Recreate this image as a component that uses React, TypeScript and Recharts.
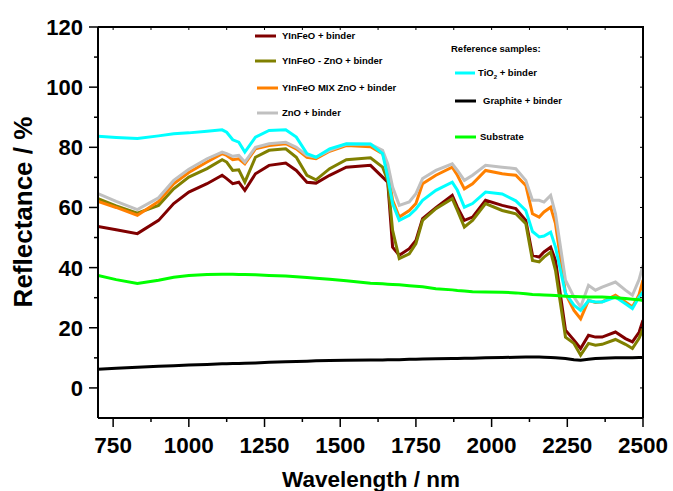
import React from 'react';
import { LineChart, Line, XAxis, YAxis } from 'recharts';

// wavelength grid (nm) shared by all spectra
const wavelengths = [
  700, 760, 830, 900, 950, 1000, 1060, 1110, 1125, 1145, 1165, 1185, 1220, 1265, 1320, 1355, 1390, 1420,
  1465, 1520, 1600, 1640, 1657, 1673, 1695, 1728, 1750, 1772, 1816, 1870, 1887, 1910, 1937, 1980, 2035,
  2080, 2113, 2135, 2157, 2173, 2195, 2211, 2244, 2272, 2294, 2320, 2343, 2365, 2409, 2442, 2465, 2487, 2500,
];

const yinfeo = [
  53.7, 52.6, 51.3, 55.7, 61.3, 65.1, 67.9, 70.7, 69.6, 67.9, 68.4, 65.7, 71.2, 74, 74.8, 72.3, 68.4, 68.1,
  70.7, 73.4, 74, 70.1, 68.4, 46.8, 44.1, 46.3, 49, 56.3, 59.9, 64, 60.1, 55.7, 56.8, 62.4, 60.7,
  59.6, 55.7, 44.1, 43.5, 45.2, 46.8, 42.4, 19.2, 15.9, 13.1, 17.5, 16.9, 16.9, 18.6, 16.4, 15.3, 18.5, 22.5,
];

const yinfeoZno = [
  62.9, 60.5, 58.1, 60.7, 66.2, 70.1, 72.9, 75.9, 75.1, 72.3, 72.5, 68.4, 76.7, 79, 79.5, 76.7, 70.7, 69.2,
  72.9, 75.9, 76.5, 73.4, 69, 52.4, 43, 44.6, 48, 55.7, 59.6, 62.9, 59, 53.5, 55.7, 61.3, 59,
  57.9, 54.6, 42.4, 41.9, 43.5, 45.2, 39.1, 16.9, 14.8, 10.9, 14.8, 14.2, 14.5, 16.1, 14.5, 13.1, 16.5, 19.7,
];

const yinfeoMix = [
  62, 60, 57.4, 62, 67.9, 71.6, 75.1, 77.9, 77.3, 75.9, 76.2, 74.5, 79.5, 80.6, 81.2, 79.5, 76.7, 76.2,
  78.7, 80.6, 80.2, 77.9, 72.3, 62.4, 56.8, 59, 61.3, 67.9, 70.7, 73.4, 70.7, 66.2, 67.9, 72.3, 71.2,
  70.7, 67.3, 57.9, 56.8, 58.5, 60.1, 54.6, 31.4, 25.8, 23, 29.1, 28.4, 28.6, 30.8, 28.6, 26.9, 31, 35.8,
];

const zno = [
  64.6, 62, 59.3, 63.2, 69, 72.7, 76.2, 78.4, 77.9, 77, 77.3, 75.1, 80, 81.2, 81.7, 80, 77.3, 76.7,
  79, 81, 81, 79, 74.5, 66.8, 60.7, 61.8, 64.6, 69.6, 72.3, 74.5, 72.3, 69, 70.7, 74, 73.4,
  72.9, 69, 62.4, 62.4, 61.8, 64, 57.9, 35.8, 30.2, 26.9, 34.1, 32.5, 33.5, 35.2, 32.5, 30.8, 36, 40.8,
];

const tio2 = [
  83.7, 83.3, 82.9, 83.8, 84.5, 84.8, 85.3, 85.8, 85, 82.5, 81.7, 78.4, 83.4, 85.6, 85.8, 83.4, 77.9, 76.7,
  79.5, 81.2, 81.1, 77.9, 70, 61.3, 55.7, 57.4, 59.5, 62.4, 65.7, 68.4, 65.7, 60.1, 61.3, 65.1, 64.5,
  62.2, 59, 52, 50.2, 50.5, 51.8, 46.8, 31.4, 27.5, 25.8, 29, 28.6, 28.6, 30.2, 28, 26.4, 30.2, 31.9,
];

const graphite = [
  6.2, 6.5, 6.9, 7.2, 7.4, 7.6, 7.8, 8, 8, 8.1, 8.1, 8.2, 8.3, 8.5, 8.7, 8.8, 8.9, 9,
  9.1, 9.2, 9.3, 9.3, 9.4, 9.4, 9.4, 9.5, 9.5, 9.6, 9.7, 9.8, 9.8, 9.9, 9.9, 10, 10.1,
  10.2, 10.3, 10.3, 10.3, 10.2, 10.1, 10, 9.8, 9.4, 9.2, 9.5, 9.8, 9.9, 10, 10, 10, 10.1, 10.1,
];

const substrate = [
  37.4, 36, 34.7, 35.8, 36.8, 37.4, 37.7, 37.8, 37.8, 37.8, 37.7, 37.7, 37.6, 37.4, 37.2, 37, 36.7, 36.5,
  36.1, 35.6, 34.8, 34.6, 34.5, 34.4, 34.3, 34, 33.8, 33.6, 33, 32.6, 32.4, 32.2, 32, 31.9, 31.8,
  31.6, 31.3, 31.1, 31, 30.9, 30.8, 30.7, 30.5, 30.4, 30.3, 30.2, 30.2, 30.2, 30, 29.7, 29.5, 29.3, 29.1,
];

const xTickLabels = [750, 1000, 1250, 1500, 1750, 2000, 2250, 2500];
const xMinorTicks = [875, 1125, 1375, 1625, 1875, 2125, 2375];
const yTickLabels = [0, 20, 40, 60, 80, 100, 120];
const yMinorTicks = [10, 30, 50, 70, 90, 110];

const rows = wavelengths.map((w, i) => ({
  w,
  yinfeo: yinfeo[i],
  yinfeoZno: yinfeoZno[i],
  yinfeoMix: yinfeoMix[i],
  zno: zno[i],
  tio2: tio2[i],
  graphite: graphite[i],
  substrate: substrate[i],
}));

const FONT = '"Liberation Sans", Arial, sans-serif';
const xTicks = [...xTickLabels, ...xMinorTicks].sort((a, b) => a - b);
const yTicks = [...yTickLabels, ...yMinorTicks].sort((a, b) => a - b);

// plot box edges (from chart margins / axis sizes below)
const PLOT_LEFT = 98;
const PLOT_TOP = 27;
const PLOT_RIGHT = 643;
const PLOT_BOTTOM = 418;

const BottomTick = (props: any) => {
  const { x, y, payload } = props;
  const axisY = y - 19;
  const major = xTickLabels.includes(payload.value);
  return (
    <g>
      <line x1={x} x2={x} y1={axisY} y2={axisY + (major ? 9 : 4)} stroke="#000" strokeWidth={1.5} />
      {/* short inward tick on the top frame line */}
      <line x1={x} x2={x} y1={PLOT_TOP} y2={PLOT_TOP + 3} stroke="#000" strokeWidth={1} />
      {major && (
        <text x={x} y={y} dy="0.72em" textAnchor="middle" fontFamily={FONT} fontWeight="bold" fontSize={22.5} fill="#000">
          {payload.value}
        </text>
      )}
    </g>
  );
};

const LeftTick = (props: any) => {
  const { x, y, payload } = props;
  const axisX = x + 15;
  const major = yTickLabels.includes(payload.value);
  return (
    <g>
      <line x1={axisX - (major ? 9 : 4)} x2={axisX} y1={y} y2={y} stroke="#000" strokeWidth={1.5} />
      {/* short inward tick on the right frame line */}
      <line x1={PLOT_RIGHT - 3} x2={PLOT_RIGHT} y1={y} y2={y} stroke="#000" strokeWidth={1} />
      {major && (
        <text x={x} y={y} dy="0.36em" textAnchor="end" fontFamily={FONT} fontWeight="bold" fontSize={22} fill="#000">
          {payload.value}
        </text>
      )}
    </g>
  );
};

const legendLeft = [
  { name: 'YInFeO + binder', color: '#800000', y: 36, x1: 255, x2: 276, tx: 282 },
  { name: 'YInFeO - ZnO + binder', color: '#808000', y: 61, x1: 255, x2: 276, tx: 282 },
  { name: 'YInFeO MIX ZnO + binder', color: '#FF8000', y: 88, x1: 257, x2: 278, tx: 282 },
  { name: 'ZnO + binder', color: '#C0C0C0', y: 113, x1: 257, x2: 278, tx: 282 },
];

export default function App() {
  return (
    <div style={{ position: 'absolute', left: 0, top: 0, width: 673, height: 491, background: '#fff' }}>
      <LineChart width={673} height={491} data={rows} margin={{ top: PLOT_TOP, right: 673 - PLOT_RIGHT, bottom: 0, left: 0 }}>
        <XAxis
          dataKey="w"
          type="number"
          domain={[700, 2500]}
          ticks={xTicks}
          interval={0}
          height={491 - PLOT_BOTTOM}
          tickSize={9}
          tickMargin={10}
          tickLine={false}
          tick={<BottomTick />}
          axisLine={{ stroke: '#000', strokeWidth: 2 }}
          allowDataOverflow
        />
        <YAxis
          type="number"
          domain={[-10, 120]}
          ticks={yTicks}
          interval={0}
          width={PLOT_LEFT}
          tickSize={9}
          tickMargin={6}
          tickLine={false}
          tick={<LeftTick />}
          axisLine={{ stroke: '#000', strokeWidth: 2 }}
          allowDataOverflow
        />
        <Line dataKey="yinfeo" stroke="#800000" strokeWidth={3} dot={false} isAnimationActive={false} />
        <Line dataKey="yinfeoZno" stroke="#808000" strokeWidth={3} dot={false} isAnimationActive={false} />
        <Line dataKey="yinfeoMix" stroke="#FF8000" strokeWidth={3} dot={false} isAnimationActive={false} />
        <Line dataKey="zno" stroke="#C0C0C0" strokeWidth={3} dot={false} isAnimationActive={false} />
        <Line dataKey="tio2" stroke="#00FFFF" strokeWidth={3} dot={false} isAnimationActive={false} />
        <Line dataKey="graphite" stroke="#000000" strokeWidth={3} dot={false} isAnimationActive={false} />
        <Line dataKey="substrate" stroke="#00FF00" strokeWidth={3} dot={false} isAnimationActive={false} />
      </LineChart>
      <svg width={673} height={491} style={{ position: 'absolute', left: 0, top: 0, pointerEvents: 'none' }}>
        {/* top and right frame lines */}
        <polyline
          points={`${PLOT_LEFT},${PLOT_TOP} ${PLOT_RIGHT},${PLOT_TOP} ${PLOT_RIGHT},${PLOT_BOTTOM}`}
          fill="none"
          stroke="#000"
          strokeWidth={2}
        />
        <g fontFamily={FONT} fontWeight="bold" fill="#000">
          <text x={371} y={487} textAnchor="middle" fontSize={22.5}>Wavelength / nm</text>
          <text x={32} y={212} textAnchor="middle" fontSize={26} transform="rotate(-90 32 212)">Reflectance / %</text>
          {legendLeft.map((l) => (
            <g key={l.name}>
              <line x1={l.x1} x2={l.x2} y1={l.y} y2={l.y} stroke={l.color} strokeWidth={3} />
              <text x={l.tx} y={l.y} dy="0.35em" fontSize={9.5}>{l.name}</text>
            </g>
          ))}
          <text x={451} y={49} dy="0.35em" fontSize={9.5}>Reference samples:</text>
          <line x1={455} x2={475} y1={73} y2={73} stroke="#00FFFF" strokeWidth={3} />
          <text x={478} y={73} dy="0.35em" fontSize={9.5}>
            TiO<tspan dy={3} fontSize={6}>2</tspan><tspan dy={-3}> + binder</tspan>
          </text>
          <line x1={455} x2={476} y1={101} y2={101} stroke="#000000" strokeWidth={3} />
          <text x={483} y={101} dy="0.35em" fontSize={9.5}>Graphite + binder</text>
          <line x1={455} x2={476} y1={137} y2={137} stroke="#00FF00" strokeWidth={3} />
          <text x={480} y={137} dy="0.35em" fontSize={9.5}>Substrate</text>
        </g>
      </svg>
    </div>
  );
}
